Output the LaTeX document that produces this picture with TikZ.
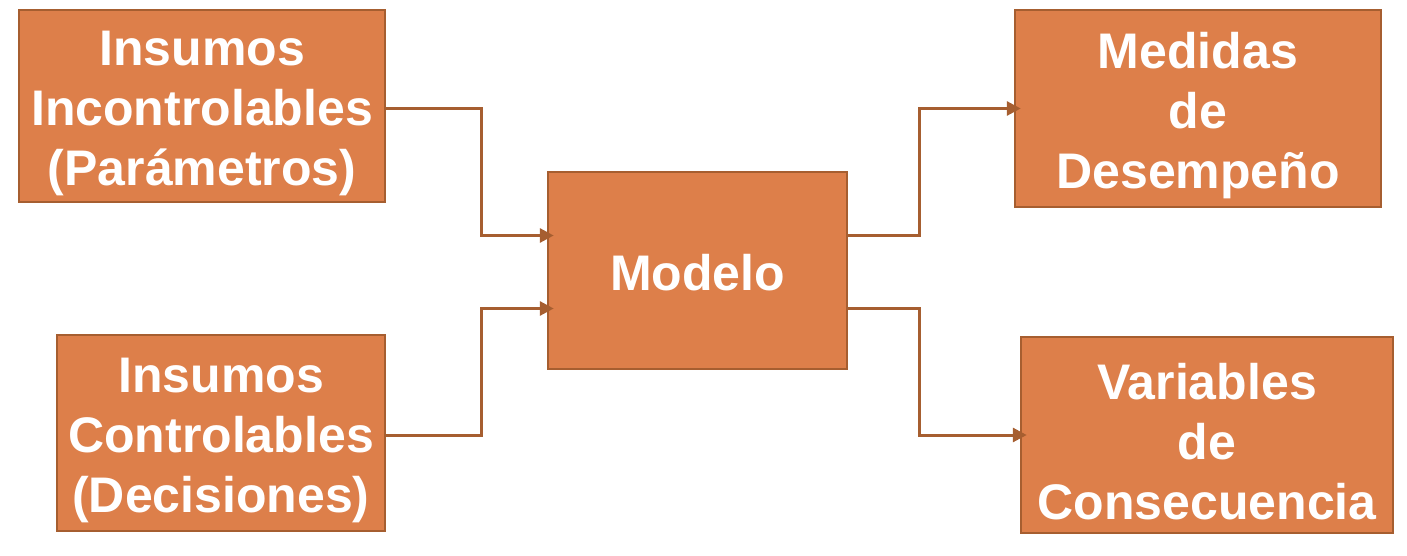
\documentclass[tikz,border=0pt]{standalone}
\usepackage{fontspec}
\setmainfont{Liberation Sans}
\usetikzlibrary{arrows.meta,positioning}
\definecolor{boxfill}{HTML}{DD7F4A}
\definecolor{boxline}{HTML}{A65E30}
\tikzstyle{block}=[
  draw=boxline,
  fill=boxfill,
  line width=2.5pt,
  inner sep=0pt,
]
\tikzstyle{boxtext}=[
  text=white,
  font=\fontsize{50}{60}\selectfont\bfseries,
  align=center,
  inner sep=0pt,
  yshift=-7pt,
]
\tikzstyle{arrow}=[
  draw=boxline,
  line width=3pt,
  shorten >=-7pt,
]
\tikzset{
  >={Triangle[length=14pt,width=14pt]},
}

\begin{document}
\begin{tikzpicture}[x=1pt,y=-1pt]
  \useasboundingbox (0,0) rectangle (1407,556);
  % bend points of the connectors
  \coordinate (inx) at (481,0);
  \coordinate (outx) at (919,0);

  \node[block, minimum width=366pt, minimum height=192pt,
    label={[boxtext]center:{Insumos\\Incontrolables\\(Parámetros)}}]
    (incontr) at (202,106) {};
  \node[block, minimum width=328pt, minimum height=196pt,
    label={[boxtext]center:{Insumos\\Controlables\\(Decisiones)}}]
    (contr) at (221,433) {};
  \node[block, minimum width=299pt, minimum height=197pt,
    label={[boxtext,yshift=5pt]center:Modelo}]
    (modelo) at (697.5,270.5) {};
  \node[block, minimum width=366pt, minimum height=197pt,
    label={[boxtext]center:{Medidas\\de\\Desempeño}}]
    (medidas) at (1198,108.5) {};
  \node[block, minimum width=372pt, minimum height=196pt,
    label={[boxtext]center:{Variables\\de\\Consecuencia}}]
    (variables) at (1207,435) {};

  \draw[arrow,->] ([yshift=-3pt]incontr.east) -- ([yshift=-3pt]incontr.east -| inx)
    |- ([yshift=35pt]modelo.west);
  \draw[arrow,->] ([yshift=-2pt]contr.east) -- ([yshift=-2pt]contr.east -| inx)
    |- ([yshift=-38pt]modelo.west);
  \draw[arrow,->] ([yshift=35pt]modelo.east) -| (outx |- medidas.west)
    -- (medidas.west);
  \draw[arrow,->] ([yshift=-38pt]modelo.east) -| (outx |- variables.west)
    -- (variables.west);
\end{tikzpicture}
\end{document}
